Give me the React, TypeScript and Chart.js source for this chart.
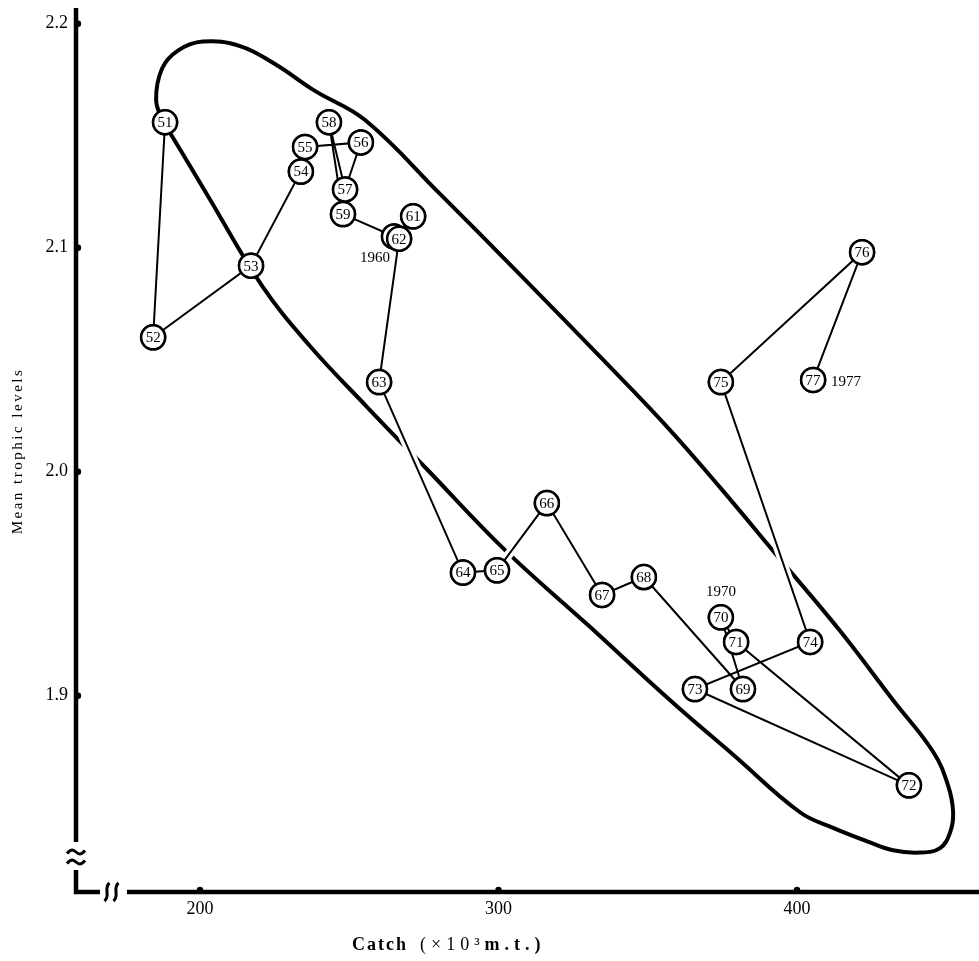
import { useEffect, useRef } from 'react';
import { Chart, registerables } from 'chart.js';

Chart.register(...registerables);

// Year of each observation (19xx), catch (10^3 metric tons) and mean trophic level
const YEARS = ['51', '52', '53', '54', '55', '56', '57', '58', '59', '60', '61', '62', '63', '64',
  '65', '66', '67', '68', '69', '70', '71', '72', '73', '74', '75', '76', '77'];
const CATCH = [188.3, 184.3, 217.1, 233.8, 235.2, 253.9, 248.6, 243.2, 247.9, 265.0, 271.4, 266.7, 260.0, 288.1,
  299.5, 316.2, 334.7, 348.7, 381.9, 374.5, 379.6, 437.5, 365.8, 404.4, 374.5, 421.8, 405.4];
const TROPHIC = [2.156, 2.060, 2.092, 2.134, 2.145, 2.147, 2.126, 2.156, 2.115, 2.105, 2.114, 2.104, 2.040, 1.955,
  1.956, 1.986, 1.945, 1.953, 1.903, 1.935, 1.924, 1.860, 1.903, 1.924, 2.040, 2.098, 2.041];

// Outline of the enclosing envelope, traced as a closed loop starting at 1951
const ENVELOPE_CATCH = [187.6, 185.3, 187.3, 192.6, 201.0, 213.4, 225.1, 238.5, 255.3, 280.4, 307.2, 335.0, 355.8,
  374.2, 394.3, 414.4, 432.2, 445.6, 450.6, 452.3, 451.3, 447.9, 441.2, 432.2, 423.5, 412.1, 401.0, 379.2, 357.5,
  329.6, 302.2, 275.4, 255.9, 236.9, 220.8, 202.7, 191.0, 187.6];
const ENVELOPE_TROPHIC = [2.156, 2.166, 2.180, 2.188, 2.192, 2.190, 2.182, 2.170, 2.157, 2.124, 2.088, 2.050, 2.021,
  1.993, 1.961, 1.929, 1.898, 1.875, 1.860, 1.848, 1.839, 1.832, 1.830, 1.831, 1.835, 1.841, 1.848, 1.873, 1.898,
  1.932, 1.965, 2.002, 2.029, 2.056, 2.083, 2.123, 2.149, 2.156];

const X_TICKS = [200, 300, 400];
const Y_TICKS = [2.2, 2.1, 2.0, 1.9];
const X_MIN = 158.46;
const X_MAX = 460.97;
const Y_MIN = 1.8124;
const Y_MAX = 2.207;

// Full-year tags written beside a few of the circles
const YEAR_TAGS = [
  { year: '60', text: '1960' },
  { year: '70', text: '1970' },
  { year: '77', text: '1977' },
];

const SERIF = "'Liberation Serif', 'DejaVu Serif', 'Times New Roman', serif";

const seriesPoints = CATCH.map((x, i) => ({ x, y: TROPHIC[i] }));
const envelopePoints = ENVELOPE_CATCH.map((x, i) => ({ x, y: ENVELOPE_TROPHIC[i] }));

function tilde(ctx: CanvasRenderingContext2D, cx: number, cy: number, w: number) {
  ctx.beginPath();
  ctx.moveTo(cx - w / 2, cy + 1.5);
  ctx.bezierCurveTo(cx - w / 4, cy - 4, cx - w / 8, cy - 2, cx, cy);
  ctx.bezierCurveTo(cx + w / 8, cy + 2, cx + w / 4, cy + 4, cx + w / 2, cy - 1.5);
  ctx.stroke();
}

function sBreak(ctx: CanvasRenderingContext2D, cx: number, cy: number, h: number) {
  ctx.beginPath();
  ctx.moveTo(cx + 2.5, cy - h / 2);
  ctx.bezierCurveTo(cx - 4, cy - h / 5, cx + 4, cy + h / 5, cx - 2.5, cy + h / 2);
  ctx.stroke();
}

const brokenAxes = {
  id: 'brokenAxes',
  beforeDatasetsDraw(chart: any) {
    const { ctx, chartArea, scales } = chart;
    const { left, top, bottom } = chartArea;
    ctx.save();
    ctx.strokeStyle = '#000';
    ctx.fillStyle = '#000';
    ctx.lineCap = 'butt';

    // vertical axis down to the break
    ctx.lineWidth = 4.5;
    ctx.beginPath();
    ctx.moveTo(left, top);
    ctx.lineTo(left, bottom - 50);
    ctx.stroke();

    // "≈" break on the vertical axis
    ctx.lineWidth = 3;
    tilde(ctx, left, bottom - 40, 18);
    tilde(ctx, left, bottom - 30, 18);

    // corner stub
    ctx.lineWidth = 4.5;
    ctx.beginPath();
    ctx.moveTo(left, bottom - 22);
    ctx.lineTo(left, bottom);
    ctx.lineTo(left + 24, bottom);
    ctx.stroke();

    // break on the horizontal axis
    ctx.lineWidth = 3;
    sBreak(ctx, left + 31, bottom, 18);
    sBreak(ctx, left + 40, bottom, 18);

    // horizontal axis
    ctx.lineWidth = 4.5;
    ctx.beginPath();
    ctx.moveTo(left + 51, bottom);
    ctx.lineTo(chart.width, bottom);
    ctx.stroke();

    // tick nubs
    Y_TICKS.forEach((v) => {
      const y = scales.y.getPixelForValue(v);
      ctx.beginPath();
      ctx.arc(left + 2, y, 3.2, -Math.PI / 2, Math.PI / 2);
      ctx.fill();
    });
    X_TICKS.forEach((v) => {
      const x = scales.x.getPixelForValue(v);
      ctx.beginPath();
      ctx.arc(x, bottom - 2, 3.2, Math.PI, 0);
      ctx.fill();
    });
    ctx.restore();
  },
};

// Redraws each circle in sequence with its number, so later years cover earlier ones
const circleLabels = {
  id: 'circleLabels',
  afterDatasetsDraw(chart: any) {
    const { ctx, chartArea } = chart;
    const meta = chart.getDatasetMeta(0);
    ctx.save();
    meta.data.forEach((el: any, i: number) => {
      el.draw(ctx, chartArea);
      ctx.fillStyle = '#000';
      ctx.textAlign = 'center';
      ctx.textBaseline = 'middle';
      ctx.font = `15px ${SERIF}`;
      ctx.fillText(YEARS[i], el.x, el.y + 1);
    });

    ctx.font = `15px ${SERIF}`;
    ctx.fillStyle = '#000';
    ctx.textBaseline = 'middle';
    YEAR_TAGS.forEach((tag) => {
      const el = meta.data[YEARS.indexOf(tag.year)];
      if (!el) return;
      if (tag.year === '60') {
        ctx.textAlign = 'right';
        ctx.fillText(tag.text, el.x - 4, el.y + 22);
      } else if (tag.year === '70') {
        ctx.textAlign = 'center';
        ctx.fillText(tag.text, el.x, el.y - 25);
      } else {
        ctx.textAlign = 'left';
        ctx.fillText(tag.text, el.x + 18, el.y + 2);
      }
    });
    ctx.restore();
  },
};

const axisTitles = {
  id: 'axisTitles',
  afterDraw(chart: any) {
    const { ctx } = chart;
    ctx.save();
    ctx.fillStyle = '#000';
    ctx.textBaseline = 'middle';

    // vertical title
    ctx.save();
    ctx.translate(18, 451);
    ctx.rotate(-Math.PI / 2);
    ctx.textAlign = 'center';
    ctx.font = `15px ${SERIF}`;
    (ctx as any).letterSpacing = '2.5px';
    ctx.fillText('Mean trophic levels', 0, 0);
    ctx.restore();

    // horizontal title
    ctx.textAlign = 'left';
    (ctx as any).letterSpacing = '2px';
    ctx.font = `bold 18px ${SERIF}`;
    ctx.fillText('Catch', 352, 945);
    (ctx as any).letterSpacing = '5px';
    ctx.font = `18px ${SERIF}`;
    const part1 = '(\u00d710\u00b3';
    ctx.fillText(part1, 420, 945);
    const w1 = ctx.measureText(part1).width;
    ctx.font = `bold 18px ${SERIF}`;
    ctx.fillText('m.t.)', 420 + w1, 945);
    ctx.restore();
  },
};

function zeroPadding(s: any) {
  s.paddingLeft = 0;
  s.paddingRight = 0;
  s.paddingTop = 0;
  s.paddingBottom = 0;
}

export default function App() {
  const canvasRef = useRef<HTMLCanvasElement | null>(null);

  useEffect(() => {
    const canvas = canvasRef.current;
    if (!canvas) return;
    const chart = new Chart(canvas, {
      type: 'scatter',
      data: {
        datasets: [
          {
            label: 'Catch vs trophic level',
            data: seriesPoints,
            showLine: true,
            borderColor: '#000',
            borderWidth: 2,
            pointRadius: 12,
            pointBorderWidth: 2.5,
            pointBackgroundColor: '#fff',
            pointBorderColor: '#000',
            pointHoverRadius: 12,
            order: 0,
            clip: false,
          },
          {
            label: 'halo',
            data: seriesPoints,
            showLine: true,
            borderColor: '#fff',
            borderWidth: 9,
            pointRadius: 0,
            pointHoverRadius: 0,
            order: 1,
            clip: false,
          },
          {
            label: 'envelope',
            data: envelopePoints,
            showLine: true,
            borderColor: '#000',
            borderWidth: 4,
            tension: 0.4,
            pointRadius: 0,
            pointHoverRadius: 0,
            order: 2,
            clip: false,
          },
        ],
      },
      options: {
        responsive: false,
        maintainAspectRatio: false,
        animation: false,
        devicePixelRatio: 1,
        events: [],
        layout: { autoPadding: false, padding: { top: 8, left: 0, right: 0, bottom: 0 } },
        plugins: {
          legend: { display: false },
          tooltip: { enabled: false },
        },
        scales: {
          x: {
            type: 'linear',
            position: 'bottom',
            min: X_MIN,
            max: X_MAX,
            grid: { display: false, drawTicks: false },
            border: { display: false },
            ticks: {
              color: '#000',
              font: { family: SERIF, size: 18 },
              padding: 6,
              maxRotation: 0,
              callback: (v: any) => String(Math.round(Number(v))),
            },
            afterBuildTicks: (s: any) => {
              s.ticks = X_TICKS.map((value) => ({ value }));
            },
            afterFit: (s: any) => {
              s.height = 69;
              zeroPadding(s);
            },
          },
          y: {
            type: 'linear',
            position: 'left',
            min: Y_MIN,
            max: Y_MAX,
            grid: { display: false, drawTicks: false },
            border: { display: false },
            ticks: {
              color: '#000',
              font: { family: SERIF, size: 18 },
              padding: 8,
              callback: (v: any) => Number(v).toFixed(1),
            },
            afterBuildTicks: (s: any) => {
              s.ticks = Y_TICKS.map((value) => ({ value }));
            },
            afterFit: (s: any) => {
              s.width = 76;
              zeroPadding(s);
            },
          },
        },
      },
      plugins: [brokenAxes, circleLabels, axisTitles],
    });
    return () => chart.destroy();
  }, []);

  return (
    <div style={{ position: 'absolute', left: 0, top: 0, width: 979, height: 961, background: '#fff' }}>
      <canvas ref={canvasRef} width={979} height={961} style={{ width: 979, height: 961, display: 'block' }} />
    </div>
  );
}
